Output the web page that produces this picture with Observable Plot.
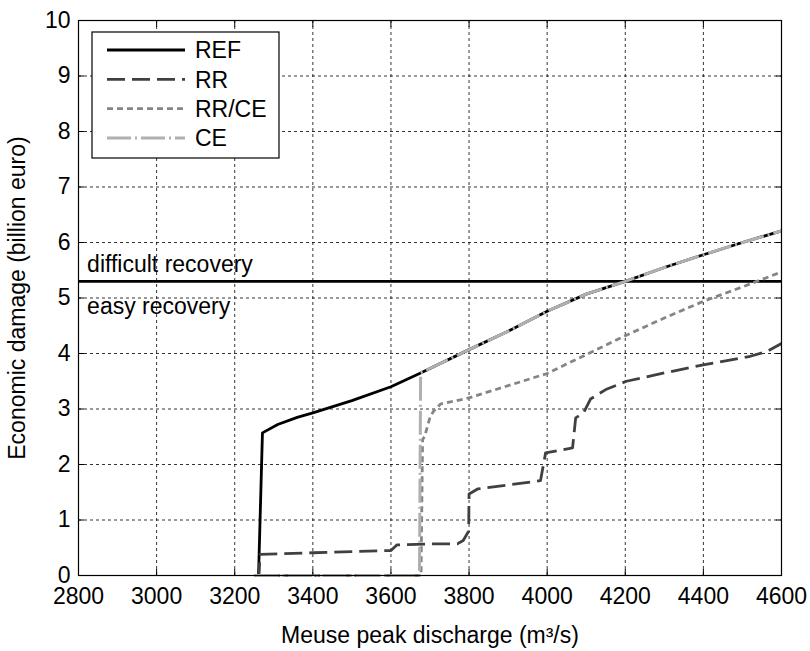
<!DOCTYPE html>
<html><head><meta charset="utf-8">
<script src="https://cdn.jsdelivr.net/npm/d3@7"></script>
<script src="https://cdn.jsdelivr.net/npm/@observablehq/plot@0.6"></script>
<style>
body{margin:0;background:#fff;}
#wrap{position:relative;width:810px;height:651px;font-family:"Liberation Sans",Arial,sans-serif;}
#legend{position:absolute;left:0;top:0;}
</style></head><body><div id="wrap"></div>
<script>
// ---- data ----
const xTicks = [2800, 3000, 3200, 3400, 3600, 3800, 4000, 4200, 4400, 4600];
const yTicks = [0, 1, 2, 3, 4, 5, 6, 7, 8, 9, 10];
const xLabel = "Meuse peak discharge (m³/s)";
const yLabel = "Economic damage (billion euro)";

const refX = [3250, 3261, 3271, 3310, 3360, 3400, 3500, 3600, 3676, 3800, 3900, 4000, 4100, 4200, 4300, 4400, 4500, 4600];
const refY = [0, 0, 2.57, 2.72, 2.85, 2.93, 3.15, 3.40, 3.65, 4.07, 4.40, 4.76, 5.07, 5.30, 5.55, 5.78, 6.00, 6.21];

const rrX = [3250, 3262, 3265, 3400, 3500, 3600, 3615, 3700, 3770, 3785, 3799, 3800, 3822, 3900, 3983, 3996, 4065, 4073, 4093, 4111, 4150, 4203, 4300, 4403, 4520, 4564, 4600];
const rrY = [0, 0, 0.38, 0.41, 0.43, 0.45, 0.55, 0.57, 0.57, 0.63, 0.80, 1.47, 1.56, 1.63, 1.71, 2.21, 2.30, 2.84, 2.93, 3.18, 3.35, 3.50, 3.65, 3.80, 3.95, 4.04, 4.18];

const rrceX = [3250, 3677, 3681, 3686, 3700, 3709, 3727, 3800, 3900, 4000, 4100, 4200, 4300, 4400, 4500, 4600];
const rrceY = [0, 0, 2.45, 2.50, 2.85, 2.96, 3.09, 3.20, 3.42, 3.64, 3.98, 4.32, 4.64, 4.94, 5.20, 5.47];

const ceX = [3250, 3673, 3676, 3800, 3900, 4000, 4100, 4200, 4300, 4400, 4500, 4600];
const ceY = [0, 0, 3.65, 4.07, 4.40, 4.76, 5.07, 5.30, 5.55, 5.78, 6.00, 6.21];

const threshold = [5.3];
const annotations = ["difficult recovery", "easy recovery"];

const seriesNames = ["REF", "RR", "RR/CE", "CE"];
const seriesColors = ["#000000", "#404040", "#858585", "#b0b0b0"];
const seriesDash = [null, "18,7", "6,4", "24,4,2,4"];
const seriesWidth = [2.8, 2.8, 2.8, 3];
const seriesData = [[refX, refY], [rrX, rrY], [rrceX, rrceY], [ceX, ceY]];

// ---- chart ----
const W = 810, H = 651;
const mL = 78, mR = 29, mT = 20, mB = 76;
const font = "\"Liberation Sans\", Arial, sans-serif";

const lineMarks = seriesData.map(([xs, ys], i) =>
  Plot.line(xs.map((x, j) => [x, ys[j]]), {
    stroke: seriesColors[i],
    strokeWidth: seriesWidth[i],
    strokeDasharray: seriesDash[i] || undefined,
    strokeLinejoin: "round",
    strokeLinecap: "butt"
  })
);

const chart = Plot.plot({
  width: W, height: H,
  marginLeft: mL, marginRight: mR, marginTop: mT, marginBottom: mB,
  style: {fontFamily: font, fontSize: "23px", color: "#000", background: "#fff", overflow: "visible"},
  x: {domain: [2800, 4600]},
  y: {domain: [0, 10]},
  marks: [
    Plot.gridX(xTicks, {stroke: "#000", strokeOpacity: 1, strokeWidth: 0.8, strokeDasharray: "3,3"}),
    Plot.gridY(yTicks, {stroke: "#000", strokeOpacity: 1, strokeWidth: 0.8, strokeDasharray: "3,3"}),
    Plot.axisX(xTicks, {anchor: "bottom", tickSize: 0, tickPadding: 12, fontSize: 23, tickFormat: d => String(d), label: xLabel, labelAnchor: "center", labelOffset: 67, labelArrow: "none"}),
    Plot.axisY(yTicks, {anchor: "left", tickSize: 0, tickPadding: 8, fontSize: 23, tickFormat: d => String(d), label: yLabel, labelAnchor: "center", labelOffset: 70, labelArrow: "none"}),
    Plot.axisX(xTicks, {anchor: "bottom", tickSize: -6, tickFormat: () => "", label: null}),
    Plot.axisX(xTicks, {anchor: "top", tickSize: -6, tickFormat: () => "", label: null}),
    Plot.axisY(yTicks, {anchor: "left", tickSize: -6, tickFormat: () => "", label: null}),
    Plot.axisY(yTicks, {anchor: "right", tickSize: -6, tickFormat: () => "", label: null}),
    Plot.ruleY(threshold, {stroke: "#000", strokeWidth: 2.8}),
    Plot.text([annotations[0]], {x: () => 2822, y: () => threshold[0], text: d => d, textAnchor: "start", lineAnchor: "bottom", dy: -9, fontSize: 23}),
    Plot.text([annotations[1]], {x: () => 2822, y: () => threshold[0], text: d => d, textAnchor: "start", lineAnchor: "bottom", dy: 33, fontSize: 23}),
    ...lineMarks,
    Plot.frame({stroke: "#000", strokeWidth: 1.2})
  ]
});
document.getElementById("wrap").appendChild(chart);

// ---- legend overlay ----
const lg = d3.select("#wrap").append("svg").attr("id", "legend")
  .attr("width", W).attr("height", H);
const box = {x: 92, y: 32, w: 187, h: 126};
lg.append("rect").attr("x", box.x).attr("y", box.y).attr("width", box.w).attr("height", box.h)
  .attr("fill", "#fff").attr("stroke", "#000").attr("stroke-width", 1.2);
seriesNames.forEach((name, i) => {
  const cy = 50 + i * 29.3;
  const l = lg.append("line").attr("x1", 107).attr("x2", 185).attr("y1", cy).attr("y2", cy)
    .attr("stroke", seriesColors[i]).attr("stroke-width", seriesWidth[i]);
  if (seriesDash[i]) l.attr("stroke-dasharray", seriesDash[i]);
  lg.append("text").attr("x", 195).attr("y", cy).attr("dy", "0.36em")
    .attr("font-family", font).attr("font-size", 23).text(name);
});
</script></body></html>
